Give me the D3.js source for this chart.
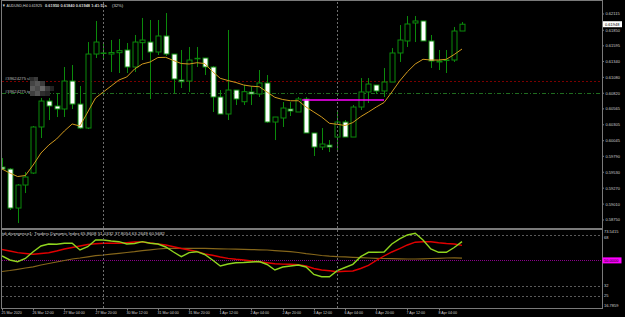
<!DOCTYPE html>
<html>
<head>
<meta charset="utf-8">
<script src="https://cdn.jsdelivr.net/npm/d3@7"></script>
<style>
  body { margin: 0; background: #000; }
  text { font-family: "Liberation Sans", Arial, sans-serif; }
</style>
</head>
<body>
<script>
// AUDUSD H4 bars, 25 Mar 20:00 .. 8 Apr 08:00
var opens = [0.59615,0.59582,0.58945,0.59321,0.59517,0.60269,0.60693,0.60612,0.60563,0.61020,
  0.60644,0.60252,0.61461,0.61470,0.61461,0.61483,0.61527,0.61249,0.61646,0.61657,
  0.61494,0.61756,0.61461,0.61037,0.61020,0.61385,0.61396,0.61249,0.60759,0.60481,
  0.60873,0.60682,0.60841,0.60808,0.60988,0.60350,0.60416,0.60563,0.60514,0.60726,
  0.60171,0.59942,0.59974,0.60105,0.60350,0.60105,0.60595,0.60841,0.60955,0.60857,
  0.61004,0.61478,0.61674,0.61968,0.62001,0.61674,0.61347,0.61358,0.61363,0.61837]
var highs = [0.59762,0.59598,0.59337,0.59533,0.60285,0.60743,0.60743,0.60824,0.61249,0.61282,
  0.60939,0.61657,0.62001,0.61625,0.61690,0.61707,0.61641,0.61772,0.62050,0.62017,
  0.62017,0.62131,0.61461,0.61527,0.61576,0.61576,0.61396,0.61265,0.60873,0.61854,
  0.60873,0.60955,0.60939,0.61200,0.61118,0.60432,0.60677,0.60677,0.60759,0.60759,
  0.60171,0.60252,0.60056,0.60530,0.60383,0.60628,0.61069,0.61069,0.60955,0.61233,
  0.61559,0.61935,0.62082,0.62082,0.62001,0.61772,0.61527,0.61527,0.61903,0.61984]
var lows = [0.59566,0.58913,0.58700,0.59190,0.59501,0.60089,0.60383,0.60432,0.60432,0.60563,
  0.60236,0.60236,0.61396,0.61396,0.61167,0.61151,0.61151,0.61167,0.61363,0.60726,
  0.61445,0.61429,0.60824,0.60906,0.60841,0.61249,0.61118,0.60514,0.60481,0.60383,
  0.60628,0.60628,0.60628,0.60759,0.60334,0.60056,0.60269,0.60448,0.60514,0.60171,
  0.59795,0.59893,0.59860,0.59860,0.60105,0.60105,0.60546,0.60661,0.60808,0.60759,
  0.61004,0.61331,0.61576,0.61657,0.61674,0.61233,0.61200,0.61151,0.61331,0.61837]
var closes = [0.59582,0.58945,0.59321,0.59452,0.60269,0.60693,0.60612,0.60563,0.61020,0.60644,
  0.60252,0.61461,0.61657,0.61478,0.61486,0.61516,0.61249,0.61657,0.61690,0.61494,
  0.61756,0.61461,0.61053,0.61009,0.61363,0.61391,0.61249,0.60759,0.60481,0.60873,
  0.60726,0.60846,0.60808,0.60988,0.60350,0.60432,0.60579,0.60530,0.60726,0.60171,
  0.59942,0.59991,0.59942,0.60350,0.60105,0.60595,0.60841,0.60971,0.60857,0.61004,
  0.61478,0.61690,0.61952,0.62001,0.61674,0.61347,0.61331,0.61363,0.61837,0.61948]
var ma = [0.59582,0.59517,0.59460,0.59476,0.59648,0.59844,0.59974,0.60073,0.60204,0.60318,
  0.60285,0.60514,0.60743,0.60841,0.60939,0.61037,0.61086,0.61216,0.61298,0.61331,
  0.61404,0.61407,0.61355,0.61306,0.61298,0.61319,0.61306,0.61175,0.61064,0.61028,
  0.60996,0.60955,0.60935,0.60927,0.60840,0.60754,0.60718,0.60698,0.60698,0.60595,
  0.60514,0.60432,0.60329,0.60313,0.60293,0.60342,0.60437,0.60514,0.60595,0.60669,
  0.60840,0.61020,0.61172,0.61298,0.61375,0.61363,0.61363,0.61375,0.61453,0.61543]

// TDI subwindow
var rsiLine = [53.10,50.29,49.08,51.34,56.14,60.16,61.57,61.36,62.07,62.07,
  57.34,59.66,64.39,64.39,63.69,63.19,61.57,61.92,63.19,62.07,
  61.57,59.45,55.92,52.61,55.44,56.14,54.17,50.29,46.06,47.46,
  48.38,48.52,48.88,49.23,47.11,43.23,45.35,46.06,46.76,45.35,
  40.06,38.51,38.51,42.74,44.99,47.25,52.61,55.72,55.72,55.92,
  61.57,65.10,67.92,69.11,64.39,58.04,55.72,55.72,59.10,63.26]
var signalLine = [57.69,56.63,55.44,54.87,54.30,54.87,55.36,56.63,58.04,59.10,
  60.16,61.21,61.78,62.07,62.07,62.07,62.48,62.98,62.98,62.28,
  61.57,60.86,59.59,58.39,57.34,56.28,54.52,53.60,52.41,51.42,
  50.78,50.29,49.59,49.08,48.38,47.61,47.40,47.25,46.97,46.06,
  44.29,43.23,42.67,42.04,42.32,42.53,44.29,46.54,49.93,53.10,
  55.92,58.26,60.86,62.84,63.19,63.19,62.42,61.92,61.57,60.57]
var baseLine = [42.17,42.88,43.72,44.64,45.49,46.76,47.81,48.88,49.93,50.99,
  51.70,52.54,53.38,53.81,54.37,55.01,55.57,56.14,56.84,57.48,
  58.04,58.46,58.54,58.54,58.54,58.54,58.46,58.33,58.18,58.04,
  57.98,57.83,57.62,57.48,57.34,56.91,56.56,56.14,55.57,54.73,
  54.17,53.46,52.97,52.61,52.41,52.19,51.91,51.70,51.48,51.34,
  51.20,51.13,50.99,50.99,51.13,51.34,51.48,51.70,51.83,51.60]

var priceTicks = [0.62115,0.61850,0.61595,0.61340,0.61080,0.60820,0.60565,0.60305,0.60045,0.59790,0.59530,0.59270,0.59010,0.58750]
var tdiTicks = [73.5415, 68, 32, 25, 16.7859]
var tdiLevels = [68, 32, 25]
var timeLabels = ["25 Mar 2020","26 Mar 12:00","27 Mar 04:00","27 Mar 20:00","30 Mar 12:00","31 Mar 04:00","31 Mar 20:00",
  "1 Apr 12:00","2 Apr 04:00","2 Apr 20:00","3 Apr 12:00","6 Apr 04:00","6 Apr 20:00","7 Apr 12:00","8 Apr 04:00"]
var weekStarts = [13, 43]
var slPrice = 0.61025, tpPrice = 0.60819
var boxLevel = {price: 0.60710, from: 38.5, to: 49}
var lastPrice = 0.61948

var svg = d3.select("body").append("svg")
  .attr("width", 625).attr("height", 317)
  .style("background", "#000")

var x = d3.scaleLinear().domain([0, 59]).range([2, 462])
var y = d3.scaleLinear().domain([0.58619, 0.62311]).range([228, 2])
var ys = d3.scaleLinear().domain([16.7859, 73.5415]).range([307.5, 227])
function px(i) { return Math.round(x(i)) + 0.5 }

var defs = svg.append("defs")
defs.append("clipPath").attr("id", "mainClip").append("rect").attr("x", 2).attr("y", 2).attr("width", 600).attr("height", 226)
defs.append("clipPath").attr("id", "subClip").append("rect").attr("x", 2).attr("y", 230).attr("width", 600).attr("height", 78)

var main = svg.append("g").attr("clip-path", "url(#mainClip)")
var sub = svg.append("g").attr("clip-path", "url(#subClip)")

// week separators
weekStarts.forEach(function(i) {
  svg.append("line").attr("x1", px(i)).attr("x2", px(i)).attr("y1", 2).attr("y2", 308)
    .attr("stroke", "#6e6e6e").attr("stroke-dasharray", "2,2")
})

// sl / tp lines
main.append("line").attr("x1", 2).attr("x2", 602).attr("y1", Math.round(y(slPrice)) + 0.5).attr("y2", Math.round(y(slPrice)) + 0.5)
  .attr("stroke", "#7a0000").attr("stroke-dasharray", "2,2")
main.append("line").attr("x1", 2).attr("x2", 602).attr("y1", Math.round(y(tpPrice)) + 0.5).attr("y2", Math.round(y(tpPrice)) + 0.5)
  .attr("stroke", "#1f6b1f").attr("stroke-dasharray", "4,2,1,2")

// candles
var idx = d3.range(opens.length)
var candles = main.selectAll("g.c").data(idx).enter().append("g")
candles.append("line")
  .attr("x1", function(i) { return px(i) }).attr("x2", function(i) { return px(i) })
  .attr("y1", function(i) { return y(highs[i]) }).attr("y2", function(i) { return y(lows[i]) })
  .attr("stroke", "#0b8a0b")
candles.append("rect")
  .attr("x", function(i) { return px(i) - 2.5 })
  .attr("y", function(i) { return Math.min(y(opens[i]), y(closes[i])) })
  .attr("width", 5)
  .attr("height", function(i) { return Math.max(0.5, Math.abs(y(opens[i]) - y(closes[i]))) })
  .attr("fill", function(i) { return closes[i] >= opens[i] ? "#000" : "#fff" })
  .attr("stroke", "#0b8a0b")

// moving average
main.append("path").datum(ma)
  .attr("d", d3.line().x(function(d, i) { return x(i) }).y(function(d) { return y(d) }))
  .attr("fill", "none").attr("stroke", "#d29a1e").attr("stroke-width", 1)

// magenta level
main.append("line").attr("x1", x(boxLevel.from)).attr("x2", x(boxLevel.to))
  .attr("y1", y(boxLevel.price)).attr("y2", y(boxLevel.price))
  .attr("stroke", "#ff00ff").attr("stroke-width", 1.6)

// order labels
main.append("text").attr("x", 5).attr("y", 80).text("#39624275 sl")
  .attr("font-size", "4.2px").attr("fill", "#bdbdbd")
main.append("text").attr("x", 5).attr("y", 92.5).text("#39624275 tp")
  .attr("font-size", "4.2px").attr("fill", "#bdbdbd")
var blur = [[30,77,4,"#2a2a2a"],[34,77,4,"#3a3a3a"],[30,81,5,"#444"],[35,81,5,"#555"],[40,81,5,"#3b3b3b"],
  [30,86,5,"#5a5a5a"],[35,86,5,"#4a4a4a"],[40,86,5,"#666"],[45,86,5,"#3a3a3a"],[30,91,5,"#3f3f3f"],[35,91,5,"#555"],[40,91,5,"#2f2f2f"],[45,91,5,"#262626"],[50,86,4,"#222"]]
main.selectAll("rect.blur").data(blur).enter().append("rect")
  .attr("x", function(d) { return d[0] }).attr("y", function(d) { return d[1] })
  .attr("width", function(d) { return d[2] }).attr("height", 5)
  .attr("fill", function(d) { return d[3] })

// title
svg.append("text").attr("x", 2).attr("y", 7).text("\u25BC AUDUSD,H4  0.61925")
  .attr("font-size", "4.2px").attr("fill", "#d8d8d8")
  .attr("textLength", 40).attr("lengthAdjust", "spacingAndGlyphs")
svg.append("text").attr("x", 45).attr("y", 7).text("0.61950 0.61840 0.61948 1:41:51s")
  .attr("font-size", "4.2px").attr("fill", "#d8d8d8").attr("font-weight", "bold")
  .attr("textLength", 62).attr("lengthAdjust", "spacingAndGlyphs")
svg.append("text").attr("x", 112).attr("y", 7).text("(32%)")
  .attr("font-size", "4.2px").attr("fill", "#d8d8d8")

// sub window levels
sub.selectAll("line.lvl").data(tdiLevels).enter().append("line")
  .attr("x1", 2).attr("x2", 602)
  .attr("y1", function(d) { return Math.round(ys(d)) + 0.5 }).attr("y2", function(d) { return Math.round(ys(d)) + 0.5 })
  .attr("stroke", "#5a5a5a").attr("stroke-dasharray", "2,2")
sub.append("line").attr("x1", 2).attr("x2", 602)
  .attr("y1", Math.round(ys(50)) + 0.5).attr("y2", Math.round(ys(50)) + 0.5)
  .attr("stroke", "#8a008a").attr("stroke-dasharray", "1,1")

var tdiLine = d3.line().x(function(d, i) { return x(i) }).y(function(d) { return ys(d) })
sub.append("path").datum(baseLine).attr("d", tdiLine)
  .attr("fill", "none").attr("stroke", "#85661a").attr("stroke-width", 1.2)
sub.append("path").datum(signalLine).attr("d", tdiLine)
  .attr("fill", "none").attr("stroke", "#e00000").attr("stroke-width", 1.4)
sub.append("path").datum(rsiLine).attr("d", tdiLine)
  .attr("fill", "none").attr("stroke", "#8fd41e").attr("stroke-width", 1.4)

svg.append("text").attr("x", 2).attr("y", 234.5)
  .text("tdi divergence1: Traders Dynamic Index 65.8608 51.0332 37.8054 63.2649 60.5682")
  .attr("font-size", "4.4px").attr("fill", "#d8d8d8")

// frames
svg.append("rect").attr("x", 1.5).attr("y", 0.5).attr("width", 601).attr("height", 228)
  .attr("fill", "none").attr("stroke", "#7a7a7a")
svg.append("rect").attr("x", 1.5).attr("y", 229.5).attr("width", 601).attr("height", 79)
  .attr("fill", "none").attr("stroke", "#7a7a7a")

// price axis
var pa = svg.selectAll("g.pt").data(priceTicks).enter().append("g")
pa.append("line").attr("x1", 602).attr("x2", 604).attr("y1", function(d) { return y(d) }).attr("y2", function(d) { return y(d) })
  .attr("stroke", "#7a7a7a")
pa.append("text").attr("x", 605.5).attr("y", function(d) { return y(d) + 1.5 })
  .text(function(d) { return d.toFixed(5) })
  .attr("font-size", "4px").attr("fill", "#d0d0d0")

svg.append("rect").attr("x", 603).attr("y", y(lastPrice) - 3).attr("width", 19).attr("height", 6).attr("fill", "#fff")
svg.append("text").attr("x", 605).attr("y", y(lastPrice) + 1.5).text(lastPrice.toFixed(5))
  .attr("font-size", "4px").attr("fill", "#000")

// tdi axis
svg.selectAll("text.st").data(tdiTicks).enter().append("text")
  .attr("x", 604)
  .attr("y", function(d) { return Math.max(233, Math.min(306.5, ys(d) + 1.5)) })
  .attr("dy", function(d) { return d === 68 ? 2.5 : 0 })
  .text(function(d) { return d % 1 === 0 ? String(d) : d.toFixed(4) })
  .attr("font-size", "4px").attr("fill", "#d0d0d0")
svg.append("rect").attr("x", 602.5).attr("y", ys(50) - 3).attr("width", 19).attr("height", 6).attr("fill", "#ff00ff")
svg.append("text").attr("x", 604).attr("y", ys(50) + 1.5).text("50.0000")
  .attr("font-size", "4px").attr("fill", "#000")

// time axis
svg.selectAll("text.tl").data(timeLabels).enter().append("text")
  .attr("x", function(d, k) { return px(k * 4) - 1 })
  .attr("y", 313.5)
  .text(function(d) { return d })
  .attr("font-size", "3.6px").attr("fill", "#d0d0d0")
svg.selectAll("line.tt").data(timeLabels).enter().append("line")
  .attr("x1", function(d, k) { return px(k * 4) }).attr("x2", function(d, k) { return px(k * 4) })
  .attr("y1", 308.5).attr("y2", 310.5).attr("stroke", "#7a7a7a")
</script>
</body>
</html>
